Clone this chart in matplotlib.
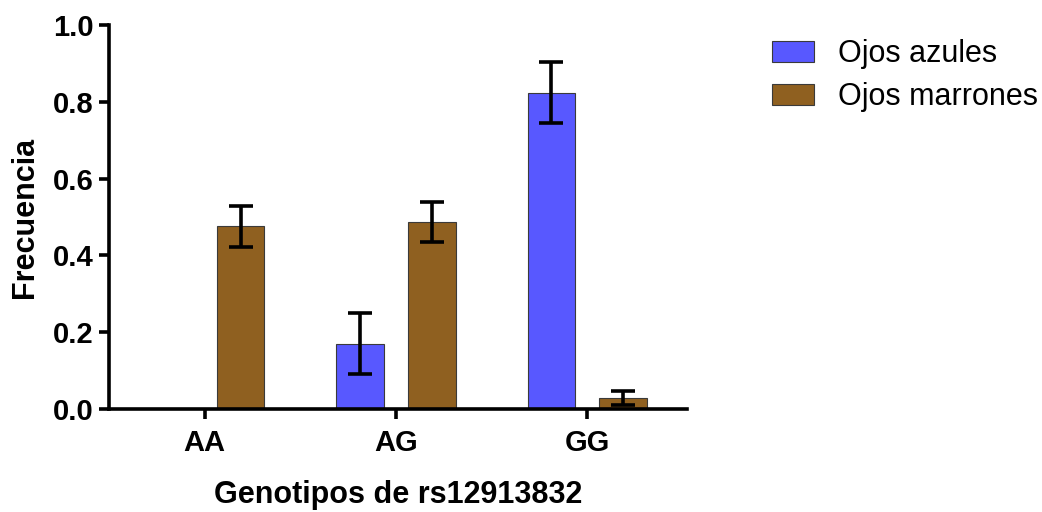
import numpy as np
import matplotlib
matplotlib.use("Agg")
import matplotlib.pyplot as plt
from matplotlib.patches import Patch

categories = ["AA", "AG", "GG"]
series_names = ["Ojos azules", "Ojos marrones"]
azules = [0.0, 0.17, 0.824]
azules_err = [0.0, 0.079, 0.079]
marrones = [0.476, 0.486, 0.029]
marrones_err = [0.053, 0.052, 0.019]
yticks = [0.0, 0.2, 0.4, 0.6, 0.8, 1.0]

colors = ["#5858FF", "#8F6020"]

plt.rcParams['font.family'] = ['Liberation Sans', 'DejaVu Sans']
fig = plt.figure(figsize=(10.42, 5.12), dpi=100)
ax = fig.add_axes([0.1046, 0.201, 0.5545, 0.750])

x = np.arange(len(categories))
w = 0.25
off = 0.1875
for vals, errs, col, sgn in [(azules, azules_err, colors[0], -1), (marrones, marrones_err, colors[1], 1)]:
    xs = x + sgn * off
    ax.bar(xs, vals, width=w, color=col, edgecolor="#3a3a3a", linewidth=0.8, zorder=2)
    v = np.array(vals); e = np.array(errs)
    m = e > 0
    ax.errorbar(xs[m], v[m], yerr=e[m], fmt="none", ecolor="black",
                elinewidth=2.6, capsize=8.5, capthick=2.6, zorder=3)

ax.set_xlim(-0.5, 2.52)
ax.set_ylim(0, 1.0)
ax.set_xticks(x)
ax.set_xticklabels(categories, fontsize=21, fontweight="bold")
ax.set_yticks(yticks)
ax.set_yticklabels([f"{t:.1f}" for t in yticks], fontsize=21, fontweight="bold")
for s in ["top", "right"]:
    ax.spines[s].set_visible(False)
for s in ["left", "bottom"]:
    ax.spines[s].set_linewidth(2.6)
ax.tick_params(axis="both", width=2.6, length=7, pad=4)
ax.tick_params(axis="x", pad=7)
ax.set_ylabel("Frecuencia", fontsize=22, fontweight="bold", labelpad=9)
ax.set_xlabel("Genotipos de rs12913832", fontsize=22, fontweight="bold", labelpad=17)

handles = [Patch(facecolor=colors[i], edgecolor="#3a3a3a", linewidth=0.8, label=series_names[i]) for i in range(2)]
fig.legend(handles=handles, loc="upper left", bbox_to_anchor=(0.741, 0.923), frameon=False,
           borderpad=0, borderaxespad=0,
           fontsize=22, handlelength=1.37, handleheight=0.65, handletextpad=0.78, labelspacing=0.42)

fig.savefig("out.png", dpi=100)
